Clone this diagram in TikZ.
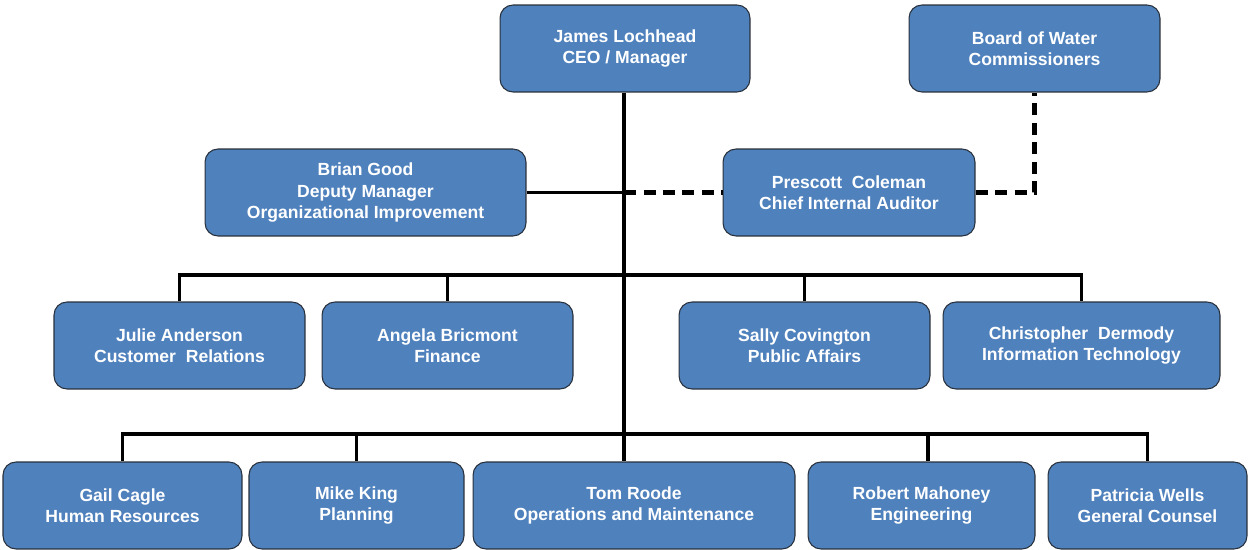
\documentclass[tikz,border=0pt]{standalone}
\usepackage{fontspec}
\setmainfont{Liberation Sans}
\usetikzlibrary{positioning}

\definecolor{boxblue}{RGB}{79,129,189}
\definecolor{boxedge}{RGB}{40,48,60}

\tikzset{
	staffbox/.style = {draw = boxedge, fill = boxblue, line width = 0.6pt, rounded corners = 0.26cm, text = white, align = center, inner sep = 0pt, minimum height = 1.74cm, font = \fontsize{10}{12}\selectfont\bfseries},
	orgline/.style = {black, line width = 2.2pt},
	dotline/.style = {black, line width = 2.4pt, dash pattern = on 0.24cm off 0.15cm}
}

\begin{document}
\begin{tikzpicture}[x = 0.02cm, y = -0.02cm]
				\useasboundingbox (0, 0) rectangle (1248, 550);
				% top row
				\node[staffbox, minimum width = 5cm] (ceo) at (625, 48.5) {James Lochhead\\CEO / Manager};
				\node[staffbox, minimum width = 5.02cm] (board) at (1034.5, 48.5) {Board of Water\\Commissioners};
				\node[staffbox, minimum width = 6.42cm] (deputy) at (365.5, 192.5) {Brian Good\\Deputy Manager\\Organizational Improvement};
				\node[staffbox, minimum width = 5.04cm] (auditor) at (849, 192.5) {Prescott\ \ Coleman\\Chief Internal Auditor};
				% middle row
				\node[staffbox, minimum width = 5.02cm] (julie) at (179.5, 345.5) {Julie Anderson\\Customer\ \ Relations};
				\node[staffbox, minimum width = 5.02cm] (angela) at (447.5, 345.5) {Angela Bricmont\\Finance};
				\node[staffbox, minimum width = 5.02cm] (sally) at (804.5, 345.5) {Sally Covington\\Public Affairs};
				\node[staffbox, minimum width = 5.54cm] (chris) at (1081.5, 345.5) {Christopher\ \ Dermody\\Information Technology};
				% bottom row
				\node[staffbox, minimum width = 4.78cm] (gail) at (122.5, 505.5) {Gail Cagle\\Human Resources};
				\node[staffbox, minimum width = 4.3cm] (mike) at (356.5, 505.5) {Mike King\\Planning};
				\node[staffbox, minimum width = 6.44cm] (tom) at (634, 505.5) {Tom Roode\\Operations and Maintenance};
				\node[staffbox, minimum width = 4.54cm] (robert) at (921.5, 505.5) {Robert Mahoney\\Engineering};
				\node[staffbox, minimum width = 3.98cm] (patricia) at (1147.5, 505.5) {Patricia Wells\\General Counsel};
				% trunk and buses
				\coordinate (busone) at (624, 275);
				\coordinate (bustwo) at (624, 434);
				\coordinate (mid) at (624, 192.5);
				\draw[orgline] (ceo.south -| busone) -- (tom.north -| busone);
				\draw[orgline] (deputy.east) -- (mid);
				\draw[dotline] (mid) -- (auditor.west);
				\draw[dotline] (auditor.east) -| (board.south);
				\draw[orgline] (julie.north) |- (busone) -| (chris.north);
				\draw[orgline] (angela.north) -- (angela.north |- busone);
				\draw[orgline] (sally.north) -- (sally.north |- busone);
				\draw[orgline] (gail.north) |- (bustwo) -| (patricia.north);
				\draw[orgline] (mike.north) -- (mike.north |- bustwo);
				\draw[orgline] ([xshift = 0.13cm]robert.north) -- ([xshift = 0.13cm]robert.north |- bustwo);
			\end{tikzpicture}
\end{document}
